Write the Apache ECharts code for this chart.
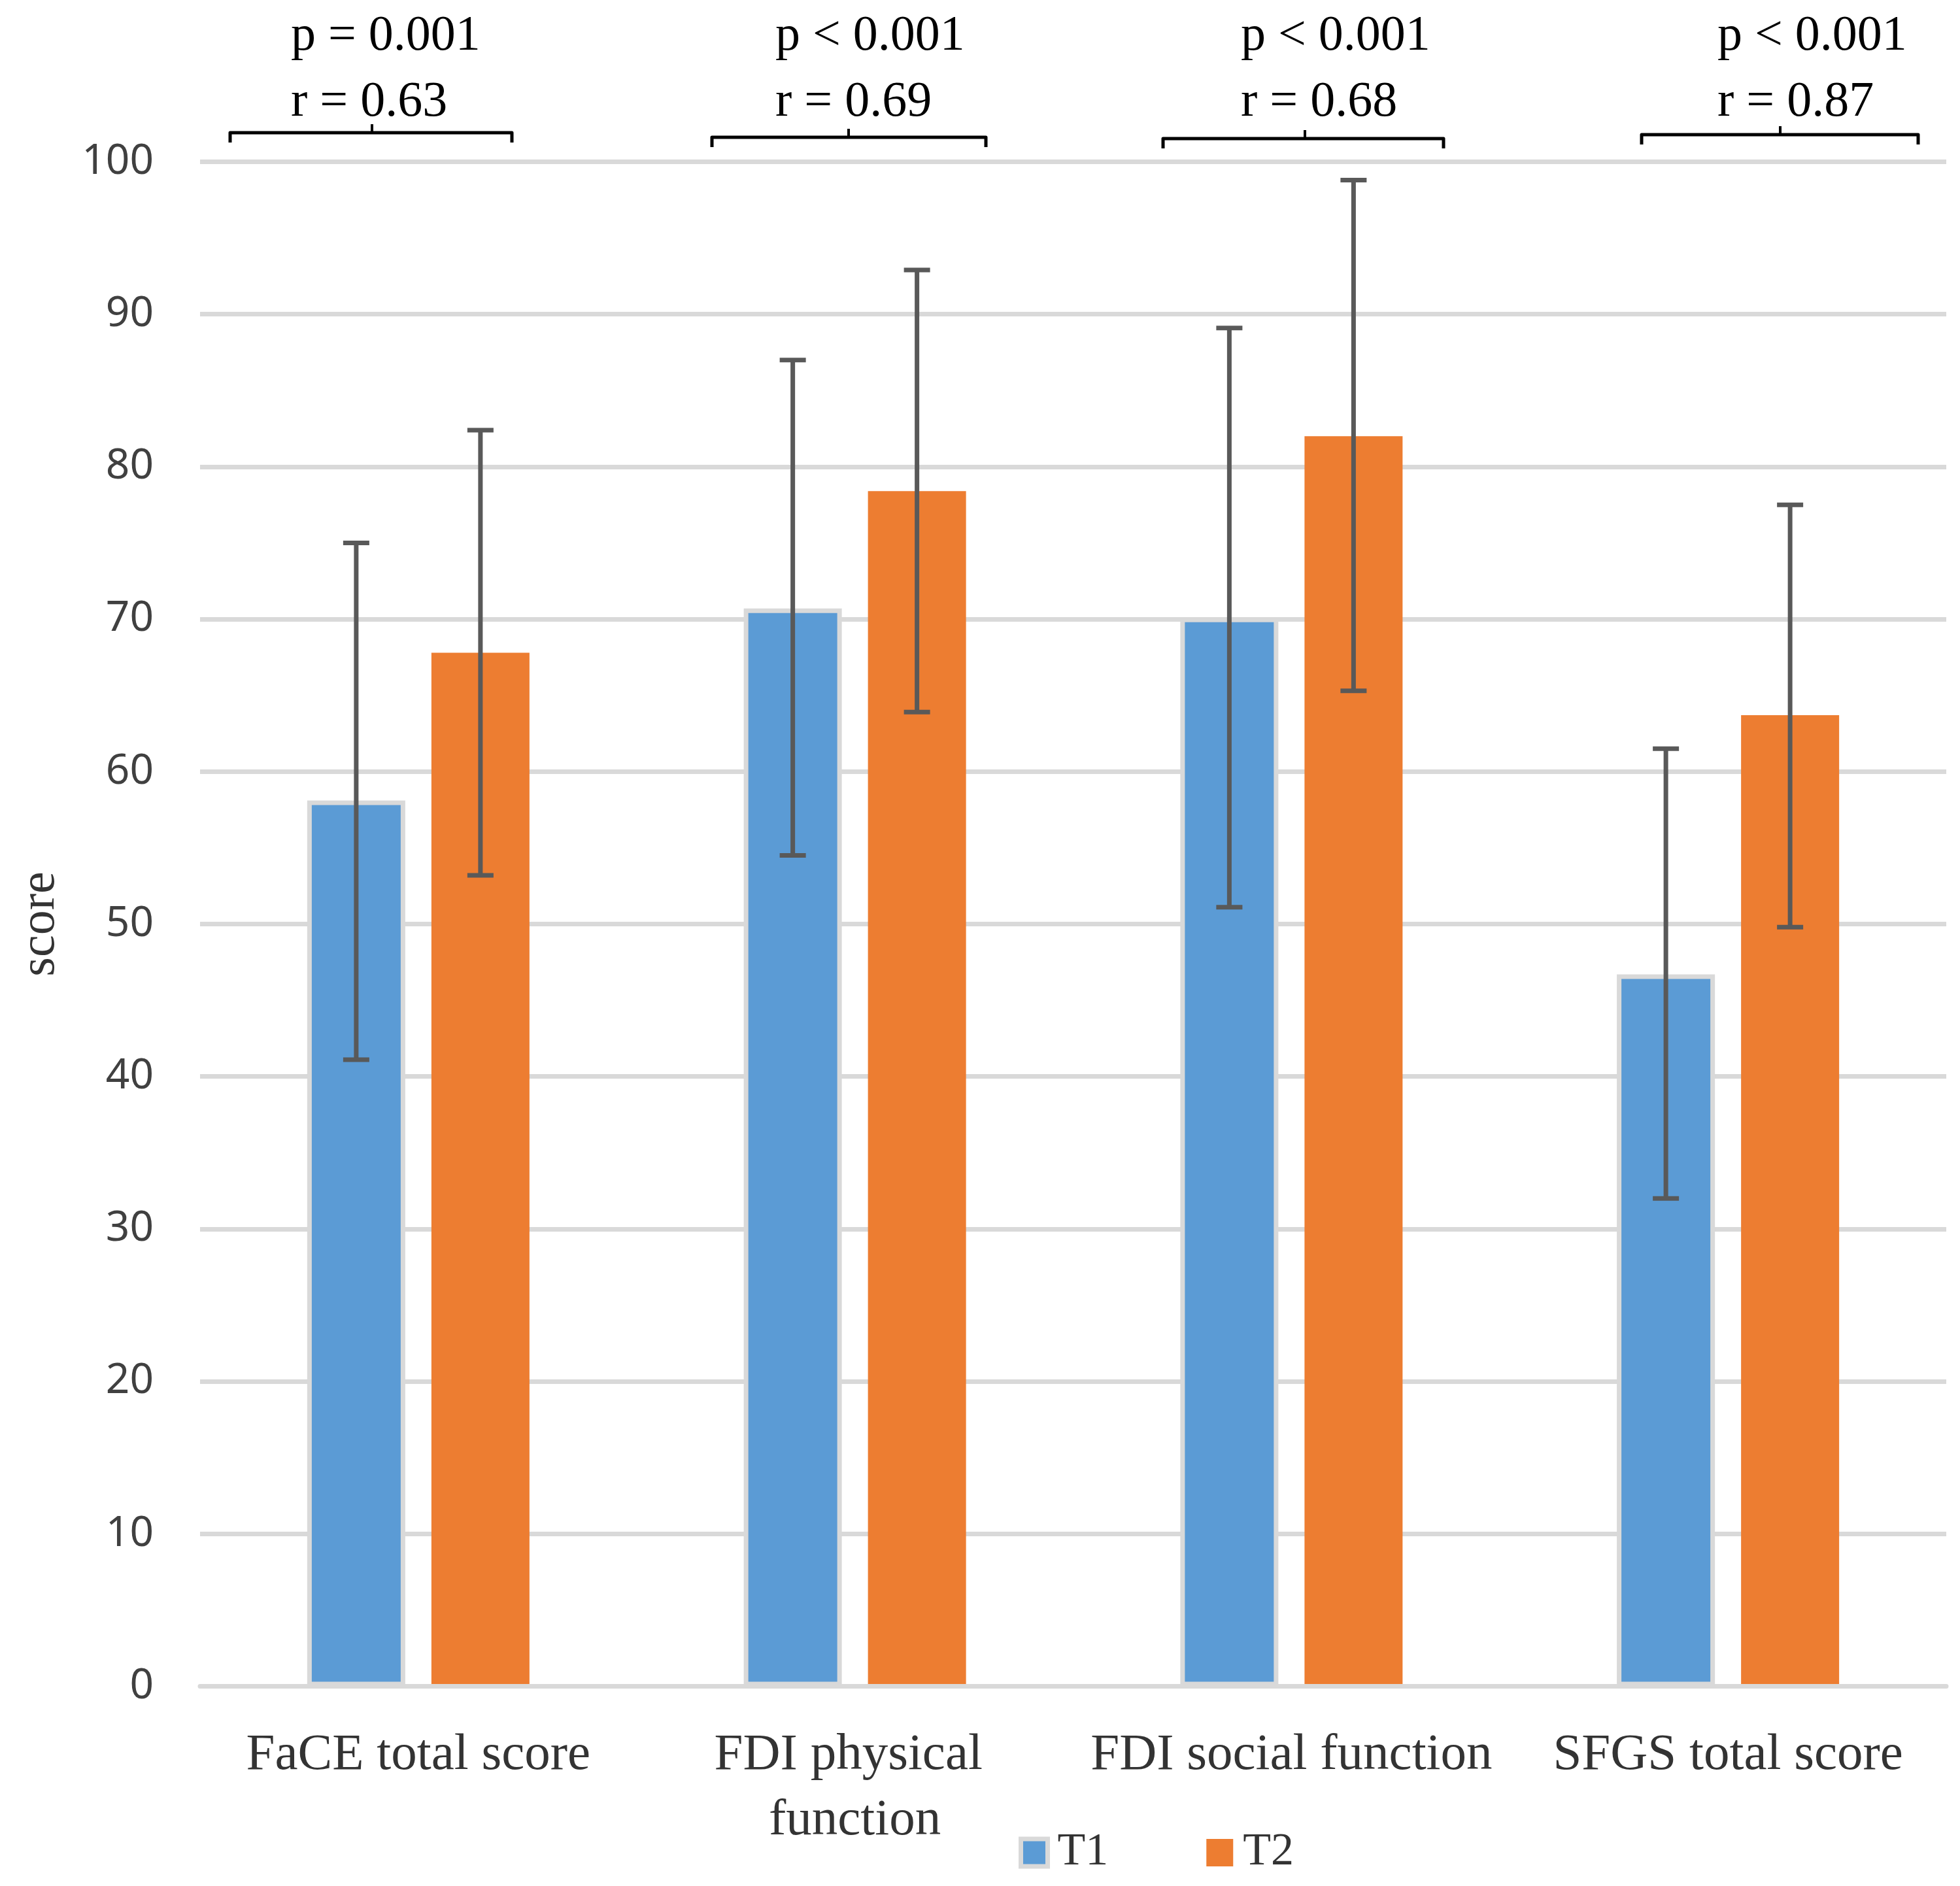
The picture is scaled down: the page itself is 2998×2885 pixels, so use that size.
<!DOCTYPE html>
<html>
<head>
<meta charset="utf-8">
<script src="https://cdn.jsdelivr.net/npm/echarts@6/dist/echarts.min.js"></script>
<style>
html, body { margin: 0; padding: 0; background: #fff; }
#main { width: 2998px; height: 2885px; }
</style>
</head>
<body>
<div id="main"></div>
<script>
var categories = ['FaCE total score', 'FDI physical function', 'FDI social function', 'SFGS total score'];
var t1Mean = [58.1, 70.7, 70.1, 46.7];
var t1High = [75.0, 87.0, 89.1, 61.5];
var t1Low = [41.1, 54.5, 51.1, 32.0];
var t2Mean = [67.8, 78.4, 82.0, 63.7];
var t2High = [82.4, 92.9, 98.8, 77.5];
var t2Low = [53.2, 63.9, 65.3, 49.8];
var pLabels = ['p = 0.001', 'p < 0.001', 'p < 0.001', 'p < 0.001'];
var rLabels = ['r = 0.63', 'r = 0.69', 'r = 0.68', 'r = 0.87'];

// layout of the annotations above the plot (pixels)
var textLeft = [445, 1186, 1898, 2627];
var bracketSpan = [[352, 783, 569, 203], [1089, 1508, 1298, 210], [1779, 2208, 1996, 212], [2511, 2934, 2723, 206]];

var BAR_W = 150, BAR_GAP = 40;
var serif = 'Liberation Serif';

function errData(low, high) {
    return categories.map(function(c, i) {
        return [i, high[i], low[i]];
    });
}

function errRender(offset) {
    return function(params, api) {
        var hi = api.coord([api.value(0), api.value(1)]);
        var lo = api.coord([api.value(0), api.value(2)]);
        var x = hi[0] + offset;
        var st = {stroke: '#595959', lineWidth: 7};
        return {
            type: 'group',
            children: [
                {type: 'line', shape: {x1: x, y1: hi[1], x2: x, y2: lo[1]}, style: st},
                {type: 'line', shape: {x1: x - 20, y1: hi[1], x2: x + 20, y2: hi[1]}, style: st},
                {type: 'line', shape: {x1: x - 20, y1: lo[1], x2: x + 20, y2: lo[1]}, style: st}
            ]
        };
    };
}

var graphics = [];
pLabels.forEach(function(t, i) {
    graphics.push({type: 'text', x: textLeft[i], y: 56, style: {text: t, font: '76px "' + serif + '"', fill: '#000', verticalAlign: 'middle'}});
    graphics.push({type: 'text', x: textLeft[i], y: 157, style: {text: rLabels[i], font: '76px "' + serif + '"', fill: '#000', verticalAlign: 'middle'}});
    var b = bracketSpan[i];
    graphics.push({
        type: 'polyline',
        shape: {points: [[b[0], b[3] + 15], [b[0], b[3]], [b[1], b[3]], [b[1], b[3] + 15]]},
        style: {stroke: '#000', lineWidth: 5, fill: null, lineJoin: 'round'}
    });
    graphics.push({
        type: 'line',
        shape: {x1: b[2], y1: b[3], x2: b[2], y2: b[3] - 13},
        style: {stroke: '#000', lineWidth: 4}
    });
});

var myChart = echarts.init(document.getElementById('main'));
myChart.setOption({
    backgroundColor: '#fff',
    animation: false,
    grid: {left: 306, right: 21, top: 247.5, bottom: 305.5, containLabel: false},
    legend: {
        left: 1558,
        top: 2799,
        padding: 0,
        icon: 'rect',
        itemWidth: 41,
        itemHeight: 42,
        itemGap: 150,
        textStyle: {fontFamily: serif, fontSize: 70, color: '#333', padding: [0, 0, 0, 10]},
        data: [
            {name: 'T1', itemStyle: {borderColor: '#D9D9D9', borderWidth: 7}},
            {name: 'T2'}
        ]
    },
    xAxis: {
        type: 'category',
        data: categories,
        z: 3,
        axisLine: {lineStyle: {color: '#D9D9D9', width: 7}},
        axisTick: {show: false},
        axisLabel: {
            interval: 0,
            margin: 56,
            fontFamily: serif,
            fontSize: 79,
            lineHeight: 100,
            color: '#333',
            width: 640,
            overflow: 'break'
        }
    },
    yAxis: {
        type: 'value',
        min: 0,
        max: 100,
        interval: 10,
        name: 'score',
        nameLocation: 'middle',
        nameGap: 206,
        nameTextStyle: {fontFamily: serif, fontSize: 76, color: '#333'},
        axisLine: {show: false},
        axisTick: {show: false},
        splitLine: {lineStyle: {color: '#D9D9D9', width: 7}},
        axisLabel: {margin: 71, fontFamily: 'Noto Sans', fontSize: 64, color: '#404040'}
    },
    series: [
        {
            name: 'T1',
            type: 'bar',
            data: t1Mean,
            barWidth: BAR_W,
            barGap: (BAR_GAP / BAR_W * 100) + '%',
            itemStyle: {color: '#5B9BD5', borderColor: '#D9D9D9', borderWidth: 7}
        },
        {
            name: 'T2',
            type: 'bar',
            data: t2Mean,
            barWidth: BAR_W,
            itemStyle: {color: '#ED7D31'}
        },
        {
            type: 'custom',
            renderItem: errRender(-(BAR_W + BAR_GAP) / 2),
            data: errData(t1Low, t1High),
            z: 5
        },
        {
            type: 'custom',
            renderItem: errRender((BAR_W + BAR_GAP) / 2),
            data: errData(t2Low, t2High),
            z: 5
        }
    ],
    graphic: graphics
});
</script>
</body>
</html>
